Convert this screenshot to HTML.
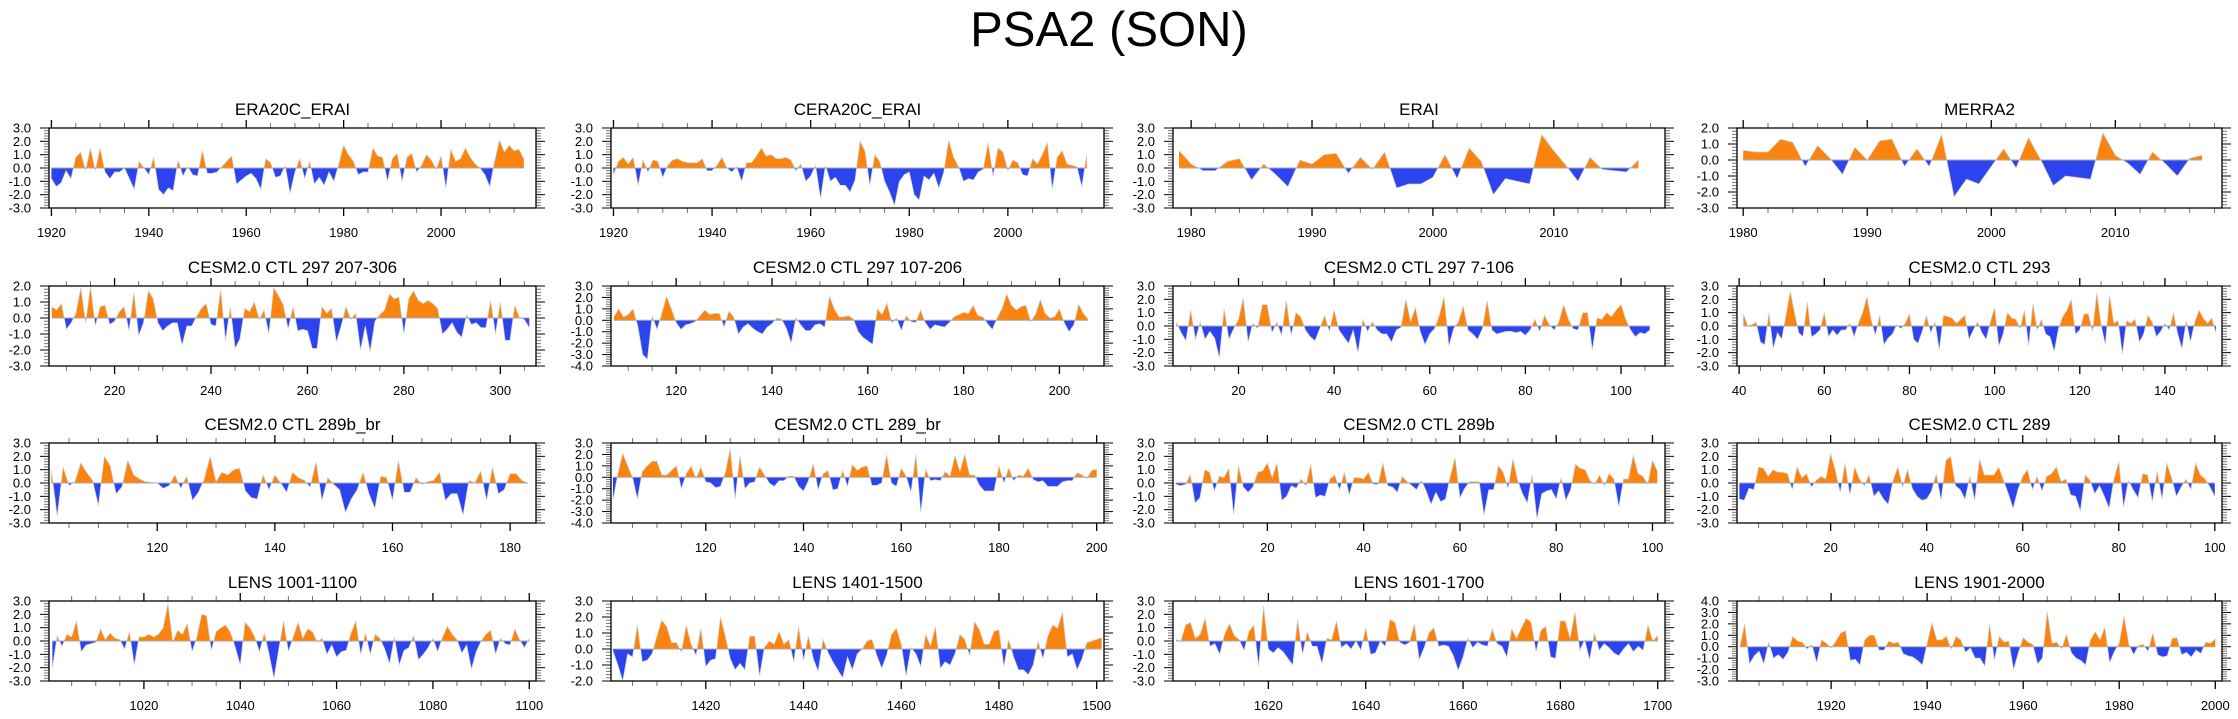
<!DOCTYPE html>
<html><head><meta charset="utf-8"><title>PSA2 (SON)</title>
<style>
html,body{margin:0;padding:0;background:#fff;}
svg{display:block;font-family:"Liberation Sans",Arial,sans-serif;}
</style></head>
<body>
<svg id="chart" width="2238" height="719" viewBox="0 0 2238 719" xmlns="http://www.w3.org/2000/svg">
<rect x="0" y="0" width="2238" height="719" fill="#fff"/>
<text x="1109" y="46" text-anchor="middle" font-size="49" fill="#000">PSA2 (SON)</text>
</svg>
<script>
// ---- data ----
const titles = ["ERA20C_ERAI","CERA20C_ERAI","ERAI","MERRA2",
"CESM2.0 CTL 297 207-306","CESM2.0 CTL 297 107-206","CESM2.0 CTL 297 7-106","CESM2.0 CTL 293",
"CESM2.0 CTL 289b_br","CESM2.0 CTL 289_br","CESM2.0 CTL 289b","CESM2.0 CTL 289",
"LENS 1001-1100","LENS 1401-1500","LENS 1601-1700","LENS 1901-2000"];
const startYears = [1920,1920,1979,1980,207,107,7,41,102,101,1,1,1001,1401,1601,1901];
const xMins = [1919.5,1919.5,1978.5,1979.5,206.4,106.4,6.3,39.5,101.6,100.6,0.4,0.5,1000.3,1400.6,1600.4,1900.4];
const xMaxs = [2019.5,2019.5,2019.2,2018.6,307.4,209.3,109.2,153.4,184.4,201.5,102.6,101.5,1101.4,1501.5,1701.5,2001.4];
const yMins = [-3,-3,-3,-3,-3,-4,-3,-3,-3,-4,-3,-3,-3,-2,-3,-3];
const yMaxs = [3,3,3,2,2,3,3,3,3,3,3,3,3,3,3,4];
const xMajor = [20,20,10,10,20,20,20,20,20,20,20,20,20,20,20,20];
const xMinor = [5,5,2,2,5,5,5,5,5,5,5,5,5,5,5,5];

const sEra20c = [-0.8,-1.4,-1.1,-0.2,-0.8,0.8,1.2,-0.2,1.5,-0.2,1.5,-0.3,-0.8,-0.3,-0.3,0.0,-0.8,-1.6,0.5,0.0,-0.5,0.8,-1.6,-2.0,-1.5,-1.7,0.6,-0.6,0.1,-0.5,-0.6,1.3,-0.4,-0.4,-0.3,0.1,0.5,0.9,-1.2,-0.9,-0.6,-0.4,-0.8,-1.6,0.7,0.4,-0.7,-0.6,0.2,-1.9,-0.3,0.7,-0.8,0.5,-1.2,-0.7,-1.3,-0.3,-1.0,0.3,1.7,1.0,0.5,-0.5,-0.3,-0.3,1.5,0.9,0.8,-1.0,0.7,1.1,-1.0,0.8,1.1,-0.3,0.2,1.0,0.6,-0.1,0.9,-1.5,1.4,0.5,0.7,1.5,0.8,0.3,0.0,-0.5,-1.4,0.5,2.1,1.2,1.7,1.3,1.4,0.7];
const sCera20c = [-0.5,0.5,0.8,0.3,0.8,-1.3,0.6,-0.3,0.6,0.5,-0.7,0.2,0.6,0.7,0.5,0.4,0.4,0.4,0.7,-0.2,-0.2,0.2,0.8,0.0,-0.3,0.1,-1.0,0.4,0.4,0.9,1.5,0.9,1.0,0.7,0.7,0.8,0.6,-0.2,0.3,-1.0,-0.6,0.2,-2.3,0.2,-1.0,-0.7,-1.3,-1.3,-1.8,-0.9,2.0,1.3,-1.3,1.0,0.5,-1.0,-1.8,-2.8,-1.0,-0.5,-0.3,-2.0,-2.4,-0.6,-0.9,-0.4,-1.5,-0.3,2.1,0.8,0.1,-1.0,-0.8,-0.9,-0.3,-0.1,1.9,-0.6,1.5,1.2,-0.2,0.6,0.4,-0.5,-0.6,0.7,0.3,1.0,1.9,-1.6,0.8,1.3,0.3,0.2,0.1,-1.4,1.0];
const sErai = [1.3,0.3,-0.2,-0.2,0.5,0.7,-0.9,0.3,-0.5,-1.4,0.6,0.3,1.0,1.1,-0.4,0.8,-0.1,1.2,-1.5,-1.2,-1.2,-0.7,1.0,-0.8,1.5,0.5,-2.0,-0.8,-1.0,-1.2,2.5,1.3,0.2,-1.0,0.8,-0.1,-0.2,-0.3,0.6];
const sMerra2 = [0.6,0.5,0.5,1.3,1.1,-0.4,0.9,0.1,-0.9,0.8,0.0,1.2,1.3,-0.4,0.7,-0.4,1.6,-2.3,-1.2,-1.5,-0.4,0.7,-0.5,1.4,0.0,-1.6,-1.0,-1.1,-1.2,1.7,0.3,-0.2,-0.9,0.5,-0.2,-1.0,0.1,0.3];
const sCtl297a = [0.7,0.5,0.9,-0.7,-0.3,0.3,1.9,-0.3,2.0,-0.5,0.7,0.8,-0.4,-0.2,0.4,0.7,-0.8,1.6,-1.1,-0.3,1.7,1.2,-0.3,-0.8,-0.5,-0.3,-0.3,-1.7,-0.5,-0.5,0.1,0.6,0.9,-0.4,-0.5,1.8,-1.4,0.7,-1.9,-1.3,0.6,0.4,1.0,-0.1,0.5,-1.0,1.9,1.4,0.8,-0.7,0.7,-0.8,-0.7,-0.8,-1.9,-1.9,0.7,0.3,0.6,-1.5,-0.5,0.7,-0.1,0.3,-2.0,-0.5,-2.1,-0.2,0.2,0.5,1.5,1.2,1.3,-1.0,1.2,1.7,1.1,0.9,1.1,0.9,0.6,-1.0,-0.7,-0.3,-0.9,-1.2,0.2,-0.4,-0.3,-0.6,-0.6,1.1,-1.0,1.0,-1.4,-1.4,0.8,0.0,-0.1,-0.6];
const sCtl297b = [0.3,1.0,0.3,0.5,1.0,-0.5,-3.0,-3.4,0.4,-0.8,0.6,2.1,1.0,-0.2,-0.8,-0.4,-0.3,-0.1,0.4,0.9,0.5,0.6,0.6,-0.6,0.8,0.3,-1.2,-0.6,-0.3,-0.7,-1.0,-1.2,-0.6,-0.3,0.2,0.1,-0.7,-2.0,0.2,-0.4,-0.9,-0.9,-0.4,-0.3,-0.6,2.1,1.0,0.3,0.3,0.4,0.1,-1.0,-1.5,-1.8,-2.1,1.0,0.5,1.5,-0.2,0.2,-0.9,0.4,-0.1,-0.2,0.9,-0.2,-0.8,-0.4,-0.5,-0.6,-0.2,0.3,0.5,0.7,0.6,1.3,0.4,0.3,-0.3,-0.8,0.2,1.0,2.3,1.3,0.9,1.2,1.3,-0.1,0.5,1.8,0.6,0.2,0.3,1.0,-0.2,-1.0,-0.4,1.4,0.6,0.1];
const sCtl297c = [0.3,-0.5,-1.1,1.2,-1.0,0.3,-1.0,-0.4,-0.9,-2.4,1.3,-1.0,-0.2,0.5,2.1,-1.2,0.2,-0.2,1.6,1.6,-0.5,0.3,-0.7,1.9,-0.7,1.0,0.7,-0.3,-0.8,-1.1,-0.2,0.8,-0.4,1.2,-0.3,-0.8,-1.3,-0.3,-2.0,0.5,-0.4,0.3,-0.3,-0.6,-0.6,-1.2,-0.3,-0.1,2.0,0.3,1.4,-0.4,-1.4,-0.6,-0.2,0.8,2.2,-1.5,-0.2,0.3,1.5,-0.3,-0.6,-1.0,-0.2,1.9,-0.3,-0.6,-0.5,-0.4,-0.4,-0.5,-0.4,-0.7,-0.3,0.5,-0.4,0.8,0.1,-0.3,0.3,1.6,0.5,-0.2,-0.3,1.0,1.0,-1.8,0.6,0.5,1.0,0.7,1.2,1.6,0.5,-0.3,-0.8,-0.5,-0.6,-0.3];
const sCtl293 = [0.9,0.0,0.1,0.3,-1.2,-1.4,1.0,-1.7,-0.5,-1.0,0.8,2.6,1.0,-0.5,-0.8,1.8,-0.8,-0.6,-0.3,1.0,-0.8,-0.3,-0.7,-0.3,-0.3,0.2,-0.8,0.2,1.0,2.2,0.5,-0.7,0.8,-1.4,-0.9,-0.6,0.1,-0.2,0.2,0.9,-1.0,-1.3,-0.4,0.8,-0.5,0.3,-1.8,0.8,0.7,0.6,0.2,0.5,0.8,-1.0,-0.3,0.3,-0.5,-1.0,0.3,1.4,-1.5,-0.6,1.0,0.6,0.5,-0.2,1.2,-1.5,1.7,-0.3,0.5,-0.6,-0.8,-1.9,-0.2,0.7,1.2,2.0,-0.6,-0.3,0.9,0.9,-0.4,2.5,0.1,-1.4,2.3,0.2,0.4,-2.1,0.4,0.2,0.5,-1.2,-0.6,0.8,0.3,-0.8,-0.4,0.2,-0.3,1.0,-0.6,-1.7,0.4,-1.2,0.3,1.2,0.6,0.2,0.6,-0.5];
const sCtl289bBr = [1.0,-2.5,1.2,-0.2,0.1,1.5,0.8,0.2,-1.7,2.0,1.3,-0.8,-0.3,1.7,0.6,0.3,0.1,0.05,0.0,-0.4,-0.2,0.6,-0.4,0.5,-1.3,-0.7,0.3,2.0,0.1,0.8,0.6,1.0,1.1,-0.6,-1.1,-1.2,0.6,-0.5,0.6,0.0,-0.7,0.8,0.4,0.2,-0.3,1.6,-1.3,0.4,-0.1,-0.5,-2.2,-1.2,-0.5,0.8,-0.8,-1.9,0.5,0.4,-1.3,1.7,-0.7,-0.7,0.4,-0.1,0.1,0.2,0.8,-1.3,-0.8,-0.8,-2.4,0.2,0.0,0.9,-1.3,1.2,-0.8,-0.5,0.7,0.7,0.2,0.0];
const sCtl289Br = [-2.0,0.3,2.1,1.0,0.0,-1.9,0.5,1.0,1.4,1.4,0.2,0.2,0.6,1.0,-1.0,0.3,1.0,-0.1,0.9,-0.4,-0.5,-0.9,-0.8,0.4,2.5,-1.9,1.9,-1.0,-0.5,-0.4,0.9,0.2,-0.5,-0.8,-0.3,-0.3,0.1,0.1,-0.8,-1.2,-0.3,1.2,-1.1,0.3,0.6,-1.1,-1.0,0.6,-0.8,1.1,0.6,0.9,1.0,-0.7,-0.7,-0.5,2.0,-0.5,-0.8,0.8,0.1,-1.3,2.0,-3.1,0.7,-0.3,-0.2,-0.3,0.5,0.1,1.9,0.5,2.0,0.2,0.2,-0.7,-1.2,-1.2,-1.2,1.0,-0.5,0.8,-0.3,0.2,0.1,0.8,-0.2,-0.4,-0.3,-0.8,-0.8,-0.8,-0.4,-0.3,-0.3,0.4,0.2,-0.1,0.6,0.7];
const sCtl289b = [-0.1,-0.2,-0.1,0.6,-1.5,-1.1,1.0,0.8,-0.6,0.5,0.4,1.1,-2.4,1.3,-0.3,-0.7,-0.3,0.8,0.9,1.5,0.4,1.5,-1.3,-1.0,-0.2,-0.4,0.3,-0.2,1.4,-1.1,-0.9,-1.0,0.3,0.6,-0.5,0.8,-0.9,0.4,0.4,0.3,0.8,-0.1,-0.1,1.5,-0.2,-0.3,-0.7,0.5,0.1,-0.2,-0.5,0.2,-0.6,-1.6,-0.7,-1.4,-1.2,0.5,1.9,-1.1,-0.4,0.1,0.1,0.1,-2.4,-0.5,-0.5,1.3,0.8,-0.4,1.8,0.2,-0.8,-1.5,0.6,-2.7,-0.8,-0.6,-0.5,-1.2,0.4,-1.3,-0.5,1.4,1.1,1.0,0.2,-0.1,0.6,-0.2,0.7,0.3,-1.8,0.3,0.3,2.1,0.7,0.5,-0.1,1.7,0.9];
const sCtl289 = [-1.2,-1.3,-0.4,-0.5,1.2,1.1,0.5,1.0,0.8,0.8,0.7,-0.5,1.2,0.4,0.7,-0.3,0.2,0.5,0.3,2.2,0.9,-0.7,1.5,-0.9,1.2,0.3,-0.2,0.6,-1.0,-0.6,-1.2,-1.6,0.2,1.2,-0.3,1.0,-0.4,-1.0,-1.3,-1.2,-0.6,0.7,-1.3,1.7,2.0,-0.2,-0.5,-1.2,0.5,-1.3,1.8,0.6,0.6,0.6,1.2,0.2,-0.8,-1.9,-0.5,0.5,1.0,-0.5,0.5,-0.6,0.5,0.7,1.2,0.1,0.3,-0.9,-1.0,-2.1,0.6,0.2,-0.8,-0.2,-1.0,-1.9,0.3,1.6,-1.8,0.2,-0.5,-1.1,0.7,0.6,-1.4,0.9,-1.2,1.5,0.4,-1.0,-0.3,0.3,-0.5,1.5,0.6,0.3,-0.3,-1.0];
const sLens1001 = [-2.0,0.4,-0.4,0.5,0.3,1.5,-0.8,-0.3,-0.2,-0.1,0.9,0.1,0.6,0.2,0.1,-0.6,0.7,-1.8,0.3,0.3,0.5,0.3,0.5,1.0,2.8,-0.1,0.8,0.5,1.3,-0.8,0.3,2.0,1.9,-0.7,0.7,1.0,1.2,0.6,-0.5,-1.8,1.4,1.0,0.3,-0.8,0.6,-1.0,-2.8,-0.6,1.5,-0.8,0.3,1.4,0.2,0.9,0.7,-0.1,0.2,-1.0,-0.3,-1.2,-0.8,-0.7,0.6,1.5,-1.0,0.6,-1.0,0.5,0.2,-0.6,-1.7,0.3,-1.8,-0.7,-0.5,0.4,-1.4,-1.0,-0.5,0.2,-0.8,0.3,1.1,0.5,0.1,-0.9,-0.3,-2.1,-0.8,0.0,0.5,0.8,-1.0,0.2,-0.2,-0.3,0.9,0.1,-0.5,0.2];
const sLens1401 = [-0.1,-1.0,-2.0,-0.3,-0.5,1.5,-0.8,-0.7,-0.3,0.8,1.8,1.4,0.4,0.4,-0.2,1.5,0.3,-0.4,1.3,-1.1,-0.7,-0.6,2.0,0.8,-0.6,-1.3,-0.9,-1.3,0.8,0.8,-1.7,0.1,0.5,0.3,1.1,0.3,0.6,-0.8,1.4,-0.7,0.8,-0.6,-1.4,0.6,-0.2,-0.8,-1.3,-1.8,-0.5,-1.3,-0.3,0.0,0.5,0.6,-0.4,-1.2,-0.4,0.9,1.3,0.3,-1.7,0.1,-0.3,-1.1,0.9,0.2,1.4,-1.2,-0.8,-1.0,-0.3,0.9,0.6,-0.4,1.7,1.2,0.3,0.3,1.1,1.2,-1.1,0.6,-0.5,-1.3,-1.3,-1.6,-1.0,0.5,-0.6,0.8,1.5,1.3,2.3,-0.5,-0.3,-1.3,-0.6,0.4,0.5,0.6,0.7];
const sLens1601 = [0.1,0.0,1.2,1.4,0.2,0.5,1.7,-0.4,-0.2,-1.0,0.5,1.3,0.4,0.1,-0.7,0.7,1.2,-1.9,2.6,-0.6,-0.9,-0.5,-0.8,-1.3,-1.8,1.6,-1.0,0.7,-0.4,-0.4,-1.7,0.2,0.1,1.5,-0.5,-0.2,-0.6,0.0,-0.7,1.0,-1.0,-0.9,0.0,-0.4,1.6,1.4,-0.1,-0.3,-0.1,1.3,-1.4,-0.5,0.6,1.0,-0.4,-0.3,-0.4,-1.1,-2.2,-1.2,0.2,-0.5,-0.1,-0.3,-0.4,0.9,-0.2,-0.4,-1.2,0.9,0.2,1.0,1.7,1.4,-0.8,0.8,1.1,-1.2,-1.3,1.5,1.5,0.2,2.2,-0.7,0.1,-1.4,0.6,-0.7,-0.2,-0.5,-0.9,-1.1,-0.6,-0.2,-0.8,-0.4,-0.7,1.2,0.0,0.4];
const sLens1901 = [0.0,2.0,-1.5,-0.8,-0.4,-1.5,0.4,-1.0,-0.7,-1.1,-0.5,0.9,0.5,0.4,-0.2,0.2,-1.4,0.6,0.3,-0.1,0.5,1.2,1.4,-1.2,-1.1,-1.6,0.6,1.0,1.0,-0.3,-0.3,0.5,0.3,0.4,-0.6,-0.8,-0.9,-1.2,-1.6,0.3,2.1,0.6,0.6,0.9,-0.2,0.9,0.6,-0.5,-0.1,-1.0,-1.0,-1.7,2.0,-1.2,0.9,0.4,0.5,-2.0,-0.5,0.8,0.4,0.2,-1.5,-1.0,3.1,0.3,0.4,-0.2,1.1,-0.5,-1.0,-1.2,-1.6,0.6,1.3,0.6,1.7,-1.4,-0.4,0.3,2.7,0.2,-0.7,0.1,0.2,-0.4,1.2,-0.7,-0.9,-0.8,0.7,0.8,-0.7,-0.5,-0.9,-0.3,-0.6,0.4,0.3,0.7];

const series = [sEra20c,sCera20c,sErai,sMerra2,sCtl297a,sCtl297b,sCtl297c,sCtl293,
                sCtl289bBr,sCtl289Br,sCtl289b,sCtl289,sLens1001,sLens1401,sLens1601,sLens1901];
const panelNames = ["era20c-erai","cera20c-erai","erai","merra2","ctl297-207-306","ctl297-107-206","ctl297-7-106","ctl293",
                    "ctl289b-br","ctl289-br","ctl289b","ctl289","lens-1001-1100","lens-1401-1500","lens-1601-1700","lens-1901-2000"];

// ---- layout ----
const colL = [49,611,1173,1737], colR = [536,1104,1665,2222];
const rowT = [128,286,443,601], PH = 80;
const NS = "http://www.w3.org/2000/svg";
const svg = document.getElementById('chart');
function mk(tag, attrs, parent){ const e=document.createElementNS(NS,tag); for(const k in attrs) e.setAttribute(k,attrs[k]); (parent||svg).appendChild(e); return e; }
function fmt(v){ return (Math.round(v*10)/10).toFixed(1); }

for(let p=0;p<16;p++){
  const L=colL[p%4], R=colR[p%4], T=rowT[Math.floor(p/4)], B=T+PH, W=R-L;
  const x0=xMins[p], x1=xMaxs[p], y0=yMins[p], y1=yMaxs[p];
  const sx=v=>L+(v-x0)/(x1-x0)*W;
  const sy=v=>T+(y1-v)/(y1-y0)*PH;
  const g=mk('g',{});
  
  

  const t=mk('text',{x:(L+R)/2,y:T-13,'text-anchor':'middle','font-size':17,fill:'#000'},g);
  t.textContent=titles[p];
  
  

  const vals=series[p], st=startYears[p];
  let d='M'+sx(st).toFixed(2)+','+sy(0).toFixed(2);
  let line='';
  vals.forEach((v,i)=>{ const px=sx(st+i).toFixed(2), py=sy(v).toFixed(2); d+=' L'+px+','+py; line+=(i?' L':'M')+px+','+py; });
  d+=' L'+sx(st+vals.length-1).toFixed(2)+','+sy(0).toFixed(2)+' Z';
  const cidA='ca'+p, cidB='cb'+p;
  const defs=mk('defs',{},g);
  const ca=mk('clipPath',{id:cidA},defs); mk('rect',{x:L,y:T,width:W,height:sy(0)-T},ca);
  const cb=mk('clipPath',{id:cidB},defs); mk('rect',{x:L,y:sy(0),width:W,height:B-sy(0)},cb);
  const aUp=mk('path',{d:d,fill:'#fb840f','clip-path':'url(#'+cidA+')'},g);
  
  
  const aDn=mk('path',{d:d,fill:'#2b44ee','clip-path':'url(#'+cidB+')'},g);
  
  
  const ln=mk('path',{d:line,fill:'none',stroke:'#d0d0d0','stroke-width':0.7},g);
  
  
  const zl=mk('line',{x1:sx(st),x2:sx(st+vals.length-1),y1:sy(0),y2:sy(0),stroke:'#aaa','stroke-width':1},g);
  
  

  // y ticks
  for(let k=Math.round(y0*5);k<=Math.round(y1*5);k++){
    const v=k/5, yy=sy(v), major=(k%5===0);
    const len=major?9:5, col=major?'#000':'#777';
    mk('line',{x1:L-len,x2:L,y1:yy,y2:yy,stroke:col,'stroke-width':1},g);
    mk('line',{x1:R,x2:R+len,y1:yy,y2:yy,stroke:col,'stroke-width':1},g);
    if(major){
      const yl=mk('text',{x:L-18,y:yy+4.5,'text-anchor':'end','font-size':13,fill:'#000'},g);
      yl.textContent=fmt(v);
      
      
    }
  }
  // x ticks
  for(let v=Math.ceil(x0/xMinor[p])*xMinor[p]; v<=x1; v+=xMinor[p]){
    const xx=sx(v), major=(v%xMajor[p]===0);
    const len=major?8:5, col=major?'#000':'#777';
    mk('line',{x1:xx,x2:xx,y1:B,y2:B+len,stroke:col,'stroke-width':major?1.3:1},g);
    mk('line',{x1:xx,x2:xx,y1:T-len,y2:T,stroke:col,'stroke-width':major?1.3:1},g);
    if(major){
      const xl=mk('text',{x:xx,y:B+29,'text-anchor':'middle','font-size':13,fill:'#000'},g);
      xl.textContent=String(v);
      
      
    }
  }
  const box=mk('rect',{x:L,y:T,width:W,height:PH,fill:'none',stroke:'#000','stroke-width':1.3},g);
  
  
}
</script>
</body></html>
